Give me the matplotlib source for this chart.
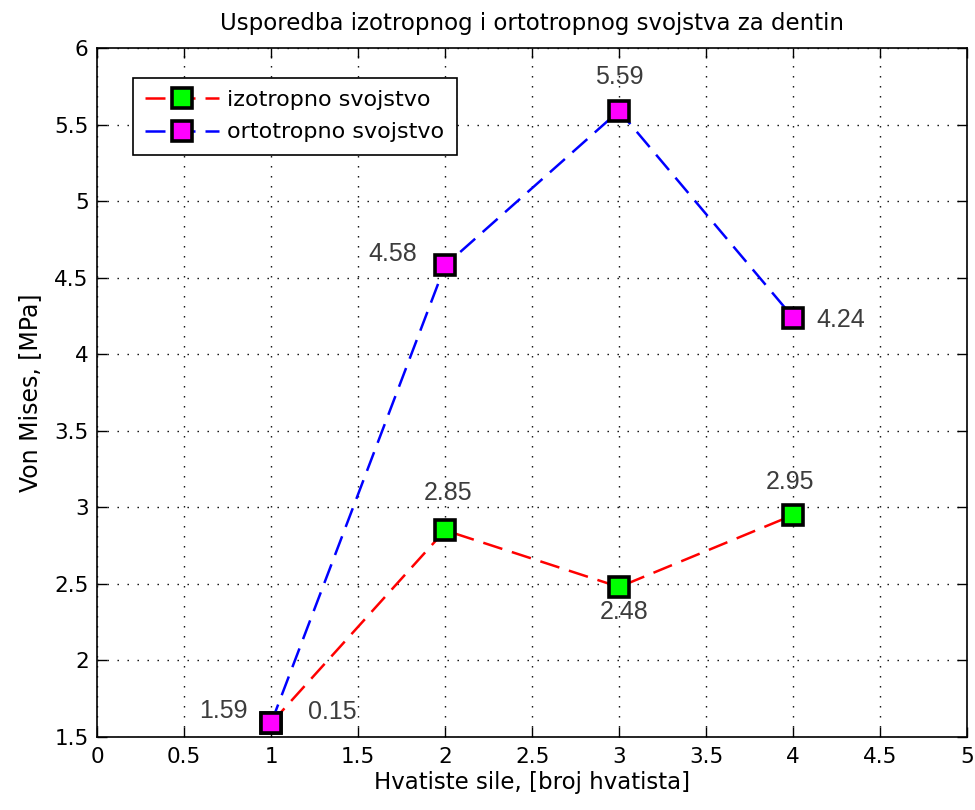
import matplotlib.pyplot as plt
import numpy as np

# data
hvatiste = [1, 2, 3, 4]
izotropno = [1.59, 2.85, 2.48, 2.95]
ortotropno = [1.59, 4.58, 5.59, 4.24]
lbl_izo = ['0.15', '2.85', '2.48', '2.95']
lbl_orto = ['1.59', '4.58', '5.59', '4.24']
xtick_lbl = ['0', '0.5', '1', '1.5', '2', '2.5', '3', '3.5', '4', '4.5', '5']
ytick_lbl = ['1.5', '2', '2.5', '3', '3.5', '4', '4.5', '5', '5.5', '6']

plt.rcParams['font.family'] = ['DejaVu Sans']

fig = plt.figure(figsize=(9.75, 8.1), dpi=100)
ax = fig.add_axes([0.0995, 0.0901, 0.8925, 0.8506])

ax.plot(hvatiste, izotropno, 'r--', lw=1.8, dashes=(8, 4), marker='s', ms=14,
        mfc='#00ff00', mec='k', mew=2.6, label='izotropno svojstvo')
ax.plot(hvatiste, ortotropno, 'b--', lw=1.8, dashes=(8, 4), marker='s', ms=14,
        mfc='#ff00ff', mec='k', mew=2.6, label='ortotropno svojstvo')

# value labels (offsets in points)
offs_izo = [(44, 8), (2, 27), (3.5, -18), (-2, 24)]
offs_orto = [(-34, 8.6), (-37.5, 8), (0, 24.5), (34.5, -1.5)]
for x, y, t, o in zip(hvatiste, izotropno, lbl_izo, offs_izo):
    ax.annotate(t, (x, y), xytext=o, textcoords='offset points',
                ha='center', va='center', fontsize=18, color='#3c3c3c',
                family='Liberation Sans')
for x, y, t, o in zip(hvatiste, ortotropno, lbl_orto, offs_orto):
    ax.annotate(t, (x, y), xytext=o, textcoords='offset points',
                ha='center', va='center', fontsize=18, color='#3c3c3c',
                family='Liberation Sans')

ax.set_xlim(0, 5)
ax.set_ylim(1.5, 6)
ax.set_xticks(np.arange(0, 5.01, 0.5))
ax.set_xticklabels(xtick_lbl)
ax.set_yticks(np.arange(1.5, 6.01, 0.5))
ax.set_yticklabels(ytick_lbl)
ax.grid(True, color='k', linestyle=(0, (1, 6.2)), lw=1)
ax.tick_params(direction='in', top=True, right=True, length=7, width=1,
               labelsize=15.5)
ax.tick_params(axis='x', pad=7)
ax.tick_params(axis='y', pad=6)
for s in ax.spines.values():
    s.set_linewidth(1.2)

ax.set_xlabel('Hvatiste sile, [broj hvatista]', fontsize=16.5, labelpad=3)
ax.set_ylabel('Von Mises, [MPa]', fontsize=17, labelpad=9)
ax.set_title('Usporedba izotropnog i ortotropnog svojstva za dentin',
             fontsize=16.5, pad=13)

leg = ax.legend(loc='upper left', bbox_to_anchor=(0.0414, 0.9565),
                borderaxespad=0, fontsize=16, fancybox=False, edgecolor='k',
                framealpha=1, handlelength=3.3, handletextpad=0.4,
                borderpad=0.55, labelspacing=0.55)
leg.get_frame().set_linewidth(1.2)

fig.savefig('out.png', dpi=100)
